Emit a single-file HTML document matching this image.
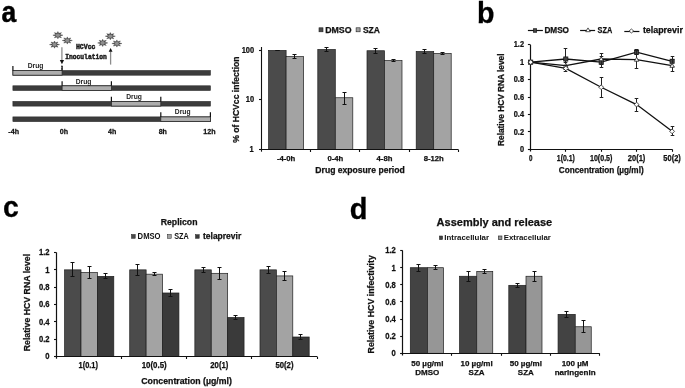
<!DOCTYPE html>
<html><head><meta charset="utf-8"><style>
html,body{margin:0;padding:0;background:#fff;width:685px;height:388px;overflow:hidden}
svg{display:block;font-family:"Liberation Sans", sans-serif;will-change:transform}
text:not([stroke]){stroke:#111;stroke-width:0.25px}
</style></head><body>
<svg width="685" height="388" viewBox="0 0 685 388">
<rect width="685" height="388" fill="#fff"/>
<text transform="translate(1.60,21.50) scale(0.88,1)" font-size="30" font-weight="bold" text-anchor="start" fill="#000" stroke="#000" stroke-width="0.5">a</text>
<text x="476.9" y="22.8" font-size="28.6" font-weight="bold" text-anchor="start" fill="#000" stroke="#000" stroke-width="0.3">b</text>
<text transform="translate(2.90,216.90) scale(0.96,1)" font-size="29.6" font-weight="bold" text-anchor="start" fill="#000" stroke="#000" stroke-width="0.3">c</text>
<text x="349.8" y="219" font-size="29.0" font-weight="bold" text-anchor="start" fill="#000" stroke="#000" stroke-width="0.3">d</text>
<rect x="12.90" y="70.50" width="197.50" height="4.70" fill="#3c3c3c" stroke="#2a2a2a" stroke-width="0.6" />
<rect x="12.90" y="70.50" width="49.20" height="4.70" fill="#adadad" stroke="#2a2a2a" stroke-width="0.8" />
<line x1="12.90" y1="65.90" x2="12.90" y2="70.50" stroke="#111" stroke-width="1.2" />
<line x1="62.10" y1="65.90" x2="62.10" y2="70.50" stroke="#111" stroke-width="1.2" />
<text transform="translate(35.55,67.70) scale(0.96,1)" font-size="7" font-weight="bold" text-anchor="middle" fill="#222" stroke="none">Drug</text>
<rect x="12.90" y="85.80" width="197.50" height="4.70" fill="#3c3c3c" stroke="#2a2a2a" stroke-width="0.6" />
<rect x="62.10" y="85.80" width="49.30" height="4.70" fill="#adadad" stroke="#2a2a2a" stroke-width="0.8" />
<line x1="62.10" y1="81.20" x2="62.10" y2="85.80" stroke="#111" stroke-width="1.2" />
<line x1="111.40" y1="81.20" x2="111.40" y2="85.80" stroke="#111" stroke-width="1.2" />
<text transform="translate(83.55,83.50) scale(0.96,1)" font-size="7" font-weight="bold" text-anchor="middle" fill="#222" stroke="none">Drug</text>
<rect x="12.90" y="101.40" width="197.50" height="4.70" fill="#3c3c3c" stroke="#2a2a2a" stroke-width="0.6" />
<rect x="111.40" y="101.40" width="49.40" height="4.70" fill="#adadad" stroke="#2a2a2a" stroke-width="0.8" />
<line x1="111.40" y1="96.80" x2="111.40" y2="101.40" stroke="#111" stroke-width="1.2" />
<line x1="160.80" y1="96.80" x2="160.80" y2="101.40" stroke="#111" stroke-width="1.2" />
<text transform="translate(134.00,99.00) scale(0.96,1)" font-size="7" font-weight="bold" text-anchor="middle" fill="#222" stroke="none">Drug</text>
<rect x="12.90" y="116.90" width="197.50" height="4.70" fill="#3c3c3c" stroke="#2a2a2a" stroke-width="0.6" />
<rect x="160.80" y="116.90" width="49.60" height="4.70" fill="#adadad" stroke="#2a2a2a" stroke-width="0.8" />
<line x1="160.80" y1="112.30" x2="160.80" y2="116.90" stroke="#111" stroke-width="1.2" />
<line x1="210.40" y1="112.30" x2="210.40" y2="116.90" stroke="#111" stroke-width="1.2" />
<text transform="translate(182.70,113.70) scale(0.96,1)" font-size="7" font-weight="bold" text-anchor="middle" fill="#222" stroke="none">Drug</text>
<text transform="translate(13.70,133.50) scale(0.95,1)" font-size="7.5" font-weight="bold" text-anchor="middle" fill="#111" >-4h</text>
<text transform="translate(63.85,133.50) scale(0.95,1)" font-size="7.5" font-weight="bold" text-anchor="middle" fill="#111" >0h</text>
<text transform="translate(112.25,133.50) scale(0.95,1)" font-size="7.5" font-weight="bold" text-anchor="middle" fill="#111" >4h</text>
<text transform="translate(162.80,133.50) scale(0.95,1)" font-size="7.5" font-weight="bold" text-anchor="middle" fill="#111" >8h</text>
<text transform="translate(209.45,133.50) scale(0.95,1)" font-size="7.5" font-weight="bold" text-anchor="middle" fill="#111" >12h</text>
<polygon points="62.90,35.20 59.93,35.97 61.44,37.75 58.74,37.05 57.90,38.80 57.06,37.05 54.36,37.75 55.87,35.97 52.90,35.20 55.87,34.43 54.36,32.65 57.06,33.35 57.90,31.60 58.74,33.35 61.44,32.65 59.93,34.43" fill="#4a4a4a" stroke="#3a3a3a" stroke-width="0.4"/>
<ellipse cx="57.9" cy="35.2" rx="2.1" ry="1.8" fill="#8e8e8e"/>
<polygon points="72.30,40.50 69.33,41.27 70.84,43.05 68.14,42.35 67.30,44.10 66.46,42.35 63.76,43.05 65.27,41.27 62.30,40.50 65.27,39.73 63.76,37.95 66.46,38.65 67.30,36.90 68.14,38.65 70.84,37.95 69.33,39.73" fill="#4a4a4a" stroke="#3a3a3a" stroke-width="0.4"/>
<ellipse cx="67.3" cy="40.5" rx="2.1" ry="1.8" fill="#8e8e8e"/>
<polygon points="59.50,44.60 56.53,45.37 58.04,47.15 55.34,46.45 54.50,48.20 53.66,46.45 50.96,47.15 52.47,45.37 49.50,44.60 52.47,43.83 50.96,42.05 53.66,42.75 54.50,41.00 55.34,42.75 58.04,42.05 56.53,43.83" fill="#4a4a4a" stroke="#3a3a3a" stroke-width="0.4"/>
<ellipse cx="54.5" cy="44.6" rx="2.1" ry="1.8" fill="#8e8e8e"/>
<polygon points="115.30,36.20 112.33,36.97 113.84,38.75 111.14,38.05 110.30,39.80 109.46,38.05 106.76,38.75 108.27,36.97 105.30,36.20 108.27,35.43 106.76,33.65 109.46,34.35 110.30,32.60 111.14,34.35 113.84,33.65 112.33,35.43" fill="#4a4a4a" stroke="#3a3a3a" stroke-width="0.4"/>
<ellipse cx="110.3" cy="36.2" rx="2.1" ry="1.8" fill="#8e8e8e"/>
<polygon points="107.70,42.90 104.73,43.67 106.24,45.45 103.54,44.75 102.70,46.50 101.86,44.75 99.16,45.45 100.67,43.67 97.70,42.90 100.67,42.13 99.16,40.35 101.86,41.05 102.70,39.30 103.54,41.05 106.24,40.35 104.73,42.13" fill="#4a4a4a" stroke="#3a3a3a" stroke-width="0.4"/>
<ellipse cx="102.7" cy="42.9" rx="2.1" ry="1.8" fill="#8e8e8e"/>
<polygon points="121.90,43.50 118.93,44.27 120.44,46.05 117.74,45.35 116.90,47.10 116.06,45.35 113.36,46.05 114.87,44.27 111.90,43.50 114.87,42.73 113.36,40.95 116.06,41.65 116.90,39.90 117.74,41.65 120.44,40.95 118.93,42.73" fill="#4a4a4a" stroke="#3a3a3a" stroke-width="0.4"/>
<ellipse cx="116.9" cy="43.5" rx="2.1" ry="1.8" fill="#8e8e8e"/>
<line x1="61.90" y1="47.30" x2="61.90" y2="60.50" stroke="#8c8c8c" stroke-width="1.3" />
<path d="M59.8,60.1 L64.1,60.1 L61.95,64.3 Z" fill="#111" stroke="none" stroke-width="1" />
<line x1="61.90" y1="65.60" x2="61.90" y2="70.50" stroke="#222" stroke-width="1.1" stroke-dasharray="1.6,0.9"/>
<line x1="110.60" y1="51.50" x2="110.60" y2="64.60" stroke="#8c8c8c" stroke-width="1.3" />
<path d="M108.7,51.8 L112.5,51.8 L110.6,47.9 Z" fill="#111" stroke="none" stroke-width="1" />
<text x="85.7" y="49.0" font-size="8" font-weight="bold" text-anchor="middle" fill="#1a1a1a" font-family="Liberation Mono" stroke="#1a1a1a" stroke-width="0.55" textLength="19.6" lengthAdjust="spacingAndGlyphs">HCVcc</text>
<text x="86" y="58.6" font-size="8" font-weight="bold" text-anchor="middle" fill="#1a1a1a" font-family="Liberation Mono" stroke="#1a1a1a" stroke-width="0.55" textLength="41.6" lengthAdjust="spacingAndGlyphs">Inoculation</text>
<rect x="268.60" y="50.41" width="17.50" height="99.09" fill="#4b4b4b" stroke="#1e1e1e" stroke-width="0.7" />
<line x1="277.50" y1="50.50" x2="277.50" y2="50.50" stroke="#111" stroke-width="1.0" />
<line x1="275.50" y1="50.50" x2="279.50" y2="50.50" stroke="#111" stroke-width="1.0" />
<line x1="275.50" y1="50.50" x2="279.50" y2="50.50" stroke="#111" stroke-width="1.0" />
<rect x="286.10" y="56.58" width="17.50" height="92.92" fill="#a3a3a3" stroke="#1e1e1e" stroke-width="0.7" />
<line x1="294.50" y1="54.50" x2="294.50" y2="58.50" stroke="#111" stroke-width="1.0" />
<line x1="292.50" y1="54.50" x2="296.50" y2="54.50" stroke="#111" stroke-width="1.0" />
<line x1="292.50" y1="58.50" x2="296.50" y2="58.50" stroke="#111" stroke-width="1.0" />
<rect x="317.80" y="49.46" width="17.50" height="100.04" fill="#4b4b4b" stroke="#1e1e1e" stroke-width="0.7" />
<line x1="326.50" y1="47.50" x2="326.50" y2="51.50" stroke="#111" stroke-width="1.0" />
<line x1="324.50" y1="47.50" x2="328.50" y2="47.50" stroke="#111" stroke-width="1.0" />
<line x1="324.50" y1="51.50" x2="328.50" y2="51.50" stroke="#111" stroke-width="1.0" />
<rect x="335.30" y="97.75" width="17.50" height="51.75" fill="#a3a3a3" stroke="#1e1e1e" stroke-width="0.7" />
<line x1="344.50" y1="92.50" x2="344.50" y2="104.50" stroke="#111" stroke-width="1.0" />
<line x1="342.50" y1="92.50" x2="346.50" y2="92.50" stroke="#111" stroke-width="1.0" />
<line x1="342.50" y1="104.50" x2="346.50" y2="104.50" stroke="#111" stroke-width="1.0" />
<rect x="367.00" y="50.74" width="17.50" height="98.76" fill="#4b4b4b" stroke="#1e1e1e" stroke-width="0.7" />
<line x1="375.50" y1="48.50" x2="375.50" y2="53.50" stroke="#111" stroke-width="1.0" />
<line x1="373.50" y1="48.50" x2="377.50" y2="48.50" stroke="#111" stroke-width="1.0" />
<line x1="373.50" y1="53.50" x2="377.50" y2="53.50" stroke="#111" stroke-width="1.0" />
<rect x="384.50" y="60.60" width="17.50" height="88.90" fill="#a3a3a3" stroke="#1e1e1e" stroke-width="0.7" />
<line x1="393.50" y1="59.50" x2="393.50" y2="61.50" stroke="#111" stroke-width="1.0" />
<line x1="391.50" y1="59.50" x2="395.50" y2="59.50" stroke="#111" stroke-width="1.0" />
<line x1="391.50" y1="61.50" x2="395.50" y2="61.50" stroke="#111" stroke-width="1.0" />
<rect x="416.20" y="51.50" width="17.50" height="98.00" fill="#4b4b4b" stroke="#1e1e1e" stroke-width="0.7" />
<line x1="424.50" y1="49.50" x2="424.50" y2="53.50" stroke="#111" stroke-width="1.0" />
<line x1="422.50" y1="49.50" x2="426.50" y2="49.50" stroke="#111" stroke-width="1.0" />
<line x1="422.50" y1="53.50" x2="426.50" y2="53.50" stroke="#111" stroke-width="1.0" />
<rect x="433.70" y="53.40" width="17.50" height="96.10" fill="#a3a3a3" stroke="#1e1e1e" stroke-width="0.7" />
<line x1="442.50" y1="52.50" x2="442.50" y2="54.50" stroke="#111" stroke-width="1.0" />
<line x1="440.50" y1="52.50" x2="444.50" y2="52.50" stroke="#111" stroke-width="1.0" />
<line x1="440.50" y1="54.50" x2="444.50" y2="54.50" stroke="#111" stroke-width="1.0" />
<line x1="261.50" y1="47.00" x2="261.50" y2="151.70" stroke="#111" stroke-width="1.1" />
<line x1="259.20" y1="149.50" x2="458.30" y2="149.50" stroke="#111" stroke-width="1.1" />
<line x1="259.00" y1="149.50" x2="261.50" y2="149.50" stroke="#111" stroke-width="1.1" />
<line x1="259.00" y1="99.50" x2="261.50" y2="99.50" stroke="#111" stroke-width="1.1" />
<line x1="259.00" y1="50.50" x2="261.50" y2="50.50" stroke="#111" stroke-width="1.1" />
<line x1="310.50" y1="149.50" x2="310.50" y2="152.00" stroke="#111" stroke-width="1.1" />
<line x1="359.50" y1="149.50" x2="359.50" y2="152.00" stroke="#111" stroke-width="1.1" />
<line x1="409.50" y1="149.50" x2="409.50" y2="152.00" stroke="#111" stroke-width="1.1" />
<line x1="458.50" y1="149.50" x2="458.50" y2="152.00" stroke="#111" stroke-width="1.1" />
<text transform="translate(254.10,52.80) scale(0.9,1)" font-size="8.3" font-weight="bold" text-anchor="end" fill="#111" >100</text>
<text transform="translate(254.10,102.30) scale(0.9,1)" font-size="8.3" font-weight="bold" text-anchor="end" fill="#111" >10</text>
<text transform="translate(253.60,151.80) scale(0.9,1)" font-size="8.3" font-weight="bold" text-anchor="end" fill="#111" >1</text>
<text x="286.1" y="160.8" font-size="7.7" font-weight="bold" text-anchor="middle" fill="#111" >-4-0h</text>
<text x="335.3" y="160.8" font-size="7.7" font-weight="bold" text-anchor="middle" fill="#111" >0-4h</text>
<text x="384.5" y="160.8" font-size="7.7" font-weight="bold" text-anchor="middle" fill="#111" >4-8h</text>
<text x="433.70000000000005" y="160.8" font-size="7.7" font-weight="bold" text-anchor="middle" fill="#111" >8-12h</text>
<text x="360.0" y="173.4" font-size="8.6" font-weight="bold" text-anchor="middle" fill="#111" >Drug exposure period</text>
<text x="0" y="0" font-size="8.6" font-weight="bold" text-anchor="middle" fill="#111" transform="translate(238.7,99.6) rotate(-90)">% of HCVcc infection</text>
<rect x="319.00" y="27.80" width="4.00" height="4.00" fill="#4b4b4b" stroke="#1e1e1e" stroke-width="0.6" />
<text x="325.2" y="32.6" font-size="8.8" font-weight="bold" text-anchor="start" fill="#111" >DMSO</text>
<rect x="356.10" y="27.80" width="4.00" height="4.00" fill="#a3a3a3" stroke="#1e1e1e" stroke-width="0.6" />
<text x="362.9" y="32.6" font-size="8.5" font-weight="bold" text-anchor="start" fill="#111" >SZA</text>
<line x1="530.50" y1="44.72" x2="530.50" y2="151.50" stroke="#111" stroke-width="1.2" />
<line x1="528.10" y1="149.50" x2="672.30" y2="149.50" stroke="#111" stroke-width="1.2" />
<line x1="527.90" y1="149.50" x2="530.40" y2="149.50" stroke="#111" stroke-width="1.1" />
<text transform="translate(524.00,152.00) scale(0.9,1)" font-size="8.2" font-weight="bold" text-anchor="end" fill="#111" >0</text>
<line x1="527.90" y1="131.50" x2="530.40" y2="131.50" stroke="#111" stroke-width="1.1" />
<text transform="translate(524.00,134.57) scale(0.9,1)" font-size="8.2" font-weight="bold" text-anchor="end" fill="#111" >0.2</text>
<line x1="527.90" y1="114.50" x2="530.40" y2="114.50" stroke="#111" stroke-width="1.1" />
<text transform="translate(524.00,117.14) scale(0.9,1)" font-size="8.2" font-weight="bold" text-anchor="end" fill="#111" >0.4</text>
<line x1="527.90" y1="97.50" x2="530.40" y2="97.50" stroke="#111" stroke-width="1.1" />
<text transform="translate(524.00,99.71) scale(0.9,1)" font-size="8.2" font-weight="bold" text-anchor="end" fill="#111" >0.6</text>
<line x1="527.90" y1="79.50" x2="530.40" y2="79.50" stroke="#111" stroke-width="1.1" />
<text transform="translate(524.00,82.28) scale(0.9,1)" font-size="8.2" font-weight="bold" text-anchor="end" fill="#111" >0.8</text>
<line x1="527.90" y1="62.50" x2="530.40" y2="62.50" stroke="#111" stroke-width="1.1" />
<text transform="translate(524.00,64.85) scale(0.9,1)" font-size="8.2" font-weight="bold" text-anchor="end" fill="#111" >1</text>
<line x1="527.90" y1="44.50" x2="530.40" y2="44.50" stroke="#111" stroke-width="1.1" />
<text transform="translate(524.00,47.42) scale(0.9,1)" font-size="8.2" font-weight="bold" text-anchor="end" fill="#111" >1.2</text>
<line x1="565.50" y1="149.30" x2="565.50" y2="151.80" stroke="#111" stroke-width="1.1" />
<line x1="601.50" y1="149.30" x2="601.50" y2="151.80" stroke="#111" stroke-width="1.1" />
<line x1="636.50" y1="149.30" x2="636.50" y2="151.80" stroke="#111" stroke-width="1.1" />
<line x1="672.50" y1="149.30" x2="672.50" y2="151.80" stroke="#111" stroke-width="1.1" />
<text x="530.6999999999999" y="160.9" font-size="8.4" font-weight="bold" text-anchor="middle" fill="#111" textLength="3.5" lengthAdjust="spacingAndGlyphs">0</text>
<text x="565.8" y="160.9" font-size="8.4" font-weight="bold" text-anchor="middle" fill="#111" textLength="18" lengthAdjust="spacingAndGlyphs">1(0.1)</text>
<text x="601.2" y="160.9" font-size="8.4" font-weight="bold" text-anchor="middle" fill="#111" textLength="22.5" lengthAdjust="spacingAndGlyphs">10(0.5)</text>
<text x="636.6" y="160.9" font-size="8.4" font-weight="bold" text-anchor="middle" fill="#111" textLength="17.5" lengthAdjust="spacingAndGlyphs">20(1)</text>
<text x="672.1" y="160.9" font-size="8.4" font-weight="bold" text-anchor="middle" fill="#111" textLength="17.5" lengthAdjust="spacingAndGlyphs">50(2)</text>
<text x="601.25" y="173.2" font-size="8.2" font-weight="bold" text-anchor="middle" fill="#111" >Concentration (µg/ml)</text>
<text x="0" y="0" font-size="8.3" font-weight="bold" text-anchor="middle" fill="#111" transform="translate(504.2,99.75) rotate(-90)">Relative HCV RNA level</text>
<line x1="565.50" y1="48.50" x2="565.50" y2="69.50" stroke="#222" stroke-width="1.0" />
<line x1="563.70" y1="48.50" x2="567.30" y2="48.50" stroke="#222" stroke-width="1.0" />
<line x1="563.70" y1="69.50" x2="567.30" y2="69.50" stroke="#222" stroke-width="1.0" />
<line x1="601.50" y1="56.50" x2="601.50" y2="67.50" stroke="#222" stroke-width="1.0" />
<line x1="599.70" y1="56.50" x2="603.30" y2="56.50" stroke="#222" stroke-width="1.0" />
<line x1="599.70" y1="67.50" x2="603.30" y2="67.50" stroke="#222" stroke-width="1.0" />
<line x1="636.50" y1="49.50" x2="636.50" y2="54.50" stroke="#222" stroke-width="1.0" />
<line x1="634.70" y1="49.50" x2="638.30" y2="49.50" stroke="#222" stroke-width="1.0" />
<line x1="634.70" y1="54.50" x2="638.30" y2="54.50" stroke="#222" stroke-width="1.0" />
<line x1="672.50" y1="56.50" x2="672.50" y2="66.50" stroke="#222" stroke-width="1.0" />
<line x1="670.70" y1="56.50" x2="674.30" y2="56.50" stroke="#222" stroke-width="1.0" />
<line x1="670.70" y1="66.50" x2="674.30" y2="66.50" stroke="#222" stroke-width="1.0" />
<polyline points="530.70,62.15 565.80,59.01 601.20,62.15 636.60,52.13 672.10,61.28" fill="none" stroke="#111" stroke-width="1.3"/>
<rect x="528.60" y="60.05" width="4.20" height="4.20" fill="#444" stroke="#111" stroke-width="0.7" />
<rect x="563.70" y="56.91" width="4.20" height="4.20" fill="#444" stroke="#111" stroke-width="0.7" />
<rect x="599.10" y="60.05" width="4.20" height="4.20" fill="#444" stroke="#111" stroke-width="0.7" />
<rect x="634.50" y="50.03" width="4.20" height="4.20" fill="#444" stroke="#111" stroke-width="0.7" />
<rect x="670.00" y="59.18" width="4.20" height="4.20" fill="#444" stroke="#111" stroke-width="0.7" />
<line x1="565.50" y1="62.50" x2="565.50" y2="69.50" stroke="#222" stroke-width="1.0" />
<line x1="563.70" y1="62.50" x2="567.30" y2="62.50" stroke="#222" stroke-width="1.0" />
<line x1="563.70" y1="69.50" x2="567.30" y2="69.50" stroke="#222" stroke-width="1.0" />
<line x1="601.50" y1="53.50" x2="601.50" y2="64.50" stroke="#222" stroke-width="1.0" />
<line x1="599.70" y1="53.50" x2="603.30" y2="53.50" stroke="#222" stroke-width="1.0" />
<line x1="599.70" y1="64.50" x2="603.30" y2="64.50" stroke="#222" stroke-width="1.0" />
<line x1="636.50" y1="50.50" x2="636.50" y2="68.50" stroke="#222" stroke-width="1.0" />
<line x1="634.70" y1="50.50" x2="638.30" y2="50.50" stroke="#222" stroke-width="1.0" />
<line x1="634.70" y1="68.50" x2="638.30" y2="68.50" stroke="#222" stroke-width="1.0" />
<line x1="672.50" y1="59.50" x2="672.50" y2="71.50" stroke="#222" stroke-width="1.0" />
<line x1="670.70" y1="59.50" x2="674.30" y2="59.50" stroke="#222" stroke-width="1.0" />
<line x1="670.70" y1="71.50" x2="674.30" y2="71.50" stroke="#222" stroke-width="1.0" />
<polyline points="530.70,62.15 565.80,65.64 601.20,59.01 636.60,59.54 672.10,65.64" fill="none" stroke="#111" stroke-width="1.3"/>
<path d="M530.70,59.85 L532.90,63.85 L528.50,63.85 Z" fill="#fff" stroke="#222" stroke-width="0.8" />
<path d="M565.80,63.34 L568.00,67.34 L563.60,67.34 Z" fill="#fff" stroke="#222" stroke-width="0.8" />
<path d="M601.20,56.71 L603.40,60.71 L599.00,60.71 Z" fill="#fff" stroke="#222" stroke-width="0.8" />
<path d="M636.60,57.24 L638.80,61.24 L634.40,61.24 Z" fill="#fff" stroke="#222" stroke-width="0.8" />
<path d="M672.10,63.34 L674.30,67.34 L669.90,67.34 Z" fill="#fff" stroke="#222" stroke-width="0.8" />
<line x1="565.50" y1="65.50" x2="565.50" y2="71.50" stroke="#222" stroke-width="1.0" />
<line x1="563.70" y1="65.50" x2="567.30" y2="65.50" stroke="#222" stroke-width="1.0" />
<line x1="563.70" y1="71.50" x2="567.30" y2="71.50" stroke="#222" stroke-width="1.0" />
<line x1="601.50" y1="77.50" x2="601.50" y2="97.50" stroke="#222" stroke-width="1.0" />
<line x1="599.70" y1="77.50" x2="603.30" y2="77.50" stroke="#222" stroke-width="1.0" />
<line x1="599.70" y1="97.50" x2="603.30" y2="97.50" stroke="#222" stroke-width="1.0" />
<line x1="636.50" y1="98.50" x2="636.50" y2="111.50" stroke="#222" stroke-width="1.0" />
<line x1="634.70" y1="98.50" x2="638.30" y2="98.50" stroke="#222" stroke-width="1.0" />
<line x1="634.70" y1="111.50" x2="638.30" y2="111.50" stroke="#222" stroke-width="1.0" />
<line x1="672.50" y1="126.50" x2="672.50" y2="135.50" stroke="#222" stroke-width="1.0" />
<line x1="670.70" y1="126.50" x2="674.30" y2="126.50" stroke="#222" stroke-width="1.0" />
<line x1="670.70" y1="135.50" x2="674.30" y2="135.50" stroke="#222" stroke-width="1.0" />
<polyline points="530.70,62.15 565.80,68.42 601.20,87.25 636.60,104.59 672.10,131.35" fill="none" stroke="#111" stroke-width="1.3"/>
<path d="M530.70,59.75 L533.10,62.15 L530.70,64.55 L528.30,62.15 Z" fill="#fff" stroke="#222" stroke-width="0.8" />
<path d="M565.80,66.02 L568.20,68.42 L565.80,70.82 L563.40,68.42 Z" fill="#fff" stroke="#222" stroke-width="0.8" />
<path d="M601.20,84.85 L603.60,87.25 L601.20,89.65 L598.80,87.25 Z" fill="#fff" stroke="#222" stroke-width="0.8" />
<path d="M636.60,102.19 L639.00,104.59 L636.60,106.99 L634.20,104.59 Z" fill="#fff" stroke="#222" stroke-width="0.8" />
<path d="M672.10,128.95 L674.50,131.35 L672.10,133.75 L669.70,131.35 Z" fill="#fff" stroke="#222" stroke-width="0.8" />
<line x1="527.90" y1="30.50" x2="542.90" y2="30.50" stroke="#111" stroke-width="1.2" />
<rect x="533.30" y="28.70" width="3.40" height="3.60" fill="#444" stroke="#111" stroke-width="0.6" />
<text x="544.4" y="32.5" font-size="8.5" font-weight="bold" text-anchor="start" fill="#111" textLength="24.6" lengthAdjust="spacingAndGlyphs">DMSO</text>
<line x1="580.10" y1="30.50" x2="595.10" y2="30.50" stroke="#111" stroke-width="1.2" />
<path d="M588.00,27.90 L590.30,31.70 L585.70,31.70 Z" fill="#fff" stroke="#222" stroke-width="0.75" />
<text x="597.6" y="32.7" font-size="8.5" font-weight="bold" text-anchor="start" fill="#111" textLength="14.6" lengthAdjust="spacingAndGlyphs">SZA</text>
<line x1="624.30" y1="31.50" x2="639.40" y2="31.50" stroke="#111" stroke-width="1.2" />
<path d="M631.40,29.00 L633.70,31.00 L631.40,33.00 L629.10,31.00 Z" fill="#fff" stroke="#222" stroke-width="0.75" />
<text x="642.9" y="32.8" font-size="8.3" font-weight="bold" text-anchor="start" fill="#111" textLength="40" lengthAdjust="spacingAndGlyphs">telaprevir</text>
<rect x="64.60" y="269.85" width="16.40" height="86.65" fill="#4b4b4b" stroke="#1e1e1e" stroke-width="0.7" />
<line x1="72.50" y1="262.50" x2="72.50" y2="276.50" stroke="#111" stroke-width="1.0" />
<line x1="70.50" y1="262.50" x2="74.50" y2="262.50" stroke="#111" stroke-width="1.0" />
<line x1="70.50" y1="276.50" x2="74.50" y2="276.50" stroke="#111" stroke-width="1.0" />
<rect x="81.00" y="272.45" width="16.40" height="84.05" fill="#a3a3a3" stroke="#1e1e1e" stroke-width="0.7" />
<line x1="89.50" y1="266.50" x2="89.50" y2="278.50" stroke="#111" stroke-width="1.0" />
<line x1="87.50" y1="266.50" x2="91.50" y2="266.50" stroke="#111" stroke-width="1.0" />
<line x1="87.50" y1="278.50" x2="91.50" y2="278.50" stroke="#111" stroke-width="1.0" />
<rect x="97.40" y="276.35" width="16.40" height="80.15" fill="#3a3a3a" stroke="#1e1e1e" stroke-width="0.7" />
<line x1="105.50" y1="273.50" x2="105.50" y2="278.50" stroke="#111" stroke-width="1.0" />
<line x1="103.50" y1="273.50" x2="107.50" y2="273.50" stroke="#111" stroke-width="1.0" />
<line x1="103.50" y1="278.50" x2="107.50" y2="278.50" stroke="#111" stroke-width="1.0" />
<rect x="129.73" y="269.85" width="16.40" height="86.65" fill="#4b4b4b" stroke="#1e1e1e" stroke-width="0.7" />
<line x1="137.50" y1="264.50" x2="137.50" y2="275.50" stroke="#111" stroke-width="1.0" />
<line x1="135.50" y1="264.50" x2="139.50" y2="264.50" stroke="#111" stroke-width="1.0" />
<line x1="135.50" y1="275.50" x2="139.50" y2="275.50" stroke="#111" stroke-width="1.0" />
<rect x="146.13" y="274.18" width="16.40" height="82.32" fill="#a3a3a3" stroke="#1e1e1e" stroke-width="0.7" />
<line x1="154.50" y1="272.50" x2="154.50" y2="275.50" stroke="#111" stroke-width="1.0" />
<line x1="152.50" y1="272.50" x2="156.50" y2="272.50" stroke="#111" stroke-width="1.0" />
<line x1="152.50" y1="275.50" x2="156.50" y2="275.50" stroke="#111" stroke-width="1.0" />
<rect x="162.53" y="292.99" width="16.40" height="63.51" fill="#3a3a3a" stroke="#1e1e1e" stroke-width="0.7" />
<line x1="170.50" y1="289.50" x2="170.50" y2="296.50" stroke="#111" stroke-width="1.0" />
<line x1="168.50" y1="289.50" x2="172.50" y2="289.50" stroke="#111" stroke-width="1.0" />
<line x1="168.50" y1="296.50" x2="172.50" y2="296.50" stroke="#111" stroke-width="1.0" />
<rect x="194.86" y="269.85" width="16.40" height="86.65" fill="#4b4b4b" stroke="#1e1e1e" stroke-width="0.7" />
<line x1="203.50" y1="267.50" x2="203.50" y2="272.50" stroke="#111" stroke-width="1.0" />
<line x1="201.50" y1="267.50" x2="205.50" y2="267.50" stroke="#111" stroke-width="1.0" />
<line x1="201.50" y1="272.50" x2="205.50" y2="272.50" stroke="#111" stroke-width="1.0" />
<rect x="211.26" y="273.32" width="16.40" height="83.18" fill="#a3a3a3" stroke="#1e1e1e" stroke-width="0.7" />
<line x1="219.50" y1="267.50" x2="219.50" y2="279.50" stroke="#111" stroke-width="1.0" />
<line x1="217.50" y1="267.50" x2="221.50" y2="267.50" stroke="#111" stroke-width="1.0" />
<line x1="217.50" y1="279.50" x2="221.50" y2="279.50" stroke="#111" stroke-width="1.0" />
<rect x="227.66" y="317.51" width="16.40" height="38.99" fill="#3a3a3a" stroke="#1e1e1e" stroke-width="0.7" />
<line x1="235.50" y1="315.50" x2="235.50" y2="319.50" stroke="#111" stroke-width="1.0" />
<line x1="233.50" y1="315.50" x2="237.50" y2="315.50" stroke="#111" stroke-width="1.0" />
<line x1="233.50" y1="319.50" x2="237.50" y2="319.50" stroke="#111" stroke-width="1.0" />
<rect x="259.99" y="269.85" width="16.40" height="86.65" fill="#4b4b4b" stroke="#1e1e1e" stroke-width="0.7" />
<line x1="268.50" y1="266.50" x2="268.50" y2="273.50" stroke="#111" stroke-width="1.0" />
<line x1="266.50" y1="266.50" x2="270.50" y2="266.50" stroke="#111" stroke-width="1.0" />
<line x1="266.50" y1="273.50" x2="270.50" y2="273.50" stroke="#111" stroke-width="1.0" />
<rect x="276.39" y="275.92" width="16.40" height="80.58" fill="#a3a3a3" stroke="#1e1e1e" stroke-width="0.7" />
<line x1="284.50" y1="271.50" x2="284.50" y2="280.50" stroke="#111" stroke-width="1.0" />
<line x1="282.50" y1="271.50" x2="286.50" y2="271.50" stroke="#111" stroke-width="1.0" />
<line x1="282.50" y1="280.50" x2="286.50" y2="280.50" stroke="#111" stroke-width="1.0" />
<rect x="292.79" y="337.00" width="16.40" height="19.50" fill="#3a3a3a" stroke="#1e1e1e" stroke-width="0.7" />
<line x1="300.50" y1="334.50" x2="300.50" y2="339.50" stroke="#111" stroke-width="1.0" />
<line x1="298.50" y1="334.50" x2="302.50" y2="334.50" stroke="#111" stroke-width="1.0" />
<line x1="298.50" y1="339.50" x2="302.50" y2="339.50" stroke="#111" stroke-width="1.0" />
<line x1="56.50" y1="252.52" x2="56.50" y2="358.70" stroke="#111" stroke-width="1.2" />
<line x1="54.20" y1="356.50" x2="317.02" y2="356.50" stroke="#111" stroke-width="1.2" />
<line x1="54.00" y1="356.50" x2="56.50" y2="356.50" stroke="#111" stroke-width="1.1" />
<text transform="translate(49.60,359.30) scale(0.92,1)" font-size="8.3" font-weight="bold" text-anchor="end" fill="#111" >0</text>
<line x1="54.00" y1="339.50" x2="56.50" y2="339.50" stroke="#111" stroke-width="1.1" />
<text transform="translate(49.60,341.97) scale(0.92,1)" font-size="8.3" font-weight="bold" text-anchor="end" fill="#111" >0.2</text>
<line x1="54.00" y1="321.50" x2="56.50" y2="321.50" stroke="#111" stroke-width="1.1" />
<text transform="translate(49.60,324.64) scale(0.92,1)" font-size="8.3" font-weight="bold" text-anchor="end" fill="#111" >0.4</text>
<line x1="54.00" y1="304.50" x2="56.50" y2="304.50" stroke="#111" stroke-width="1.1" />
<text transform="translate(49.60,307.31) scale(0.92,1)" font-size="8.3" font-weight="bold" text-anchor="end" fill="#111" >0.6</text>
<line x1="54.00" y1="287.50" x2="56.50" y2="287.50" stroke="#111" stroke-width="1.1" />
<text transform="translate(49.60,289.98) scale(0.92,1)" font-size="8.3" font-weight="bold" text-anchor="end" fill="#111" >0.8</text>
<line x1="54.00" y1="269.50" x2="56.50" y2="269.50" stroke="#111" stroke-width="1.1" />
<text transform="translate(49.60,272.65) scale(0.92,1)" font-size="8.3" font-weight="bold" text-anchor="end" fill="#111" >1</text>
<line x1="54.00" y1="252.50" x2="56.50" y2="252.50" stroke="#111" stroke-width="1.1" />
<text transform="translate(49.60,255.32) scale(0.92,1)" font-size="8.3" font-weight="bold" text-anchor="end" fill="#111" >1.2</text>
<line x1="121.50" y1="356.50" x2="121.50" y2="359.00" stroke="#111" stroke-width="1.1" />
<line x1="186.50" y1="356.50" x2="186.50" y2="359.00" stroke="#111" stroke-width="1.1" />
<line x1="251.50" y1="356.50" x2="251.50" y2="359.00" stroke="#111" stroke-width="1.1" />
<line x1="317.50" y1="356.50" x2="317.50" y2="359.00" stroke="#111" stroke-width="1.1" />
<text x="88.265" y="367.9" font-size="8.4" font-weight="bold" text-anchor="middle" fill="#111" textLength="19.5" lengthAdjust="spacingAndGlyphs">1(0.1)</text>
<text x="154.195" y="367.9" font-size="8.4" font-weight="bold" text-anchor="middle" fill="#111" textLength="25" lengthAdjust="spacingAndGlyphs">10(0.5)</text>
<text x="219.325" y="367.9" font-size="8.4" font-weight="bold" text-anchor="middle" fill="#111" textLength="18" lengthAdjust="spacingAndGlyphs">20(1)</text>
<text x="284.455" y="367.9" font-size="8.4" font-weight="bold" text-anchor="middle" fill="#111" textLength="18" lengthAdjust="spacingAndGlyphs">50(2)</text>
<text x="186.6" y="384.2" font-size="8.75" font-weight="bold" text-anchor="middle" fill="#111" >Concentration (µg/ml)</text>
<text x="0" y="0" font-size="8.75" font-weight="bold" text-anchor="middle" fill="#111" transform="translate(29.9,302.6) rotate(-90)">Relative HCV RNA level</text>
<text x="179.1" y="225.1" font-size="8.7" font-weight="bold" text-anchor="middle" fill="#111" >Replicon</text>
<rect x="131.50" y="234.50" width="3.70" height="3.80" fill="#4b4b4b" stroke="#1e1e1e" stroke-width="0.5" />
<text x="137.6" y="238.8" font-size="8.3" font-weight="bold" text-anchor="start" fill="#111" stroke="none" textLength="23" lengthAdjust="spacingAndGlyphs">DMSO</text>
<rect x="167.50" y="234.50" width="3.70" height="3.80" fill="#a3a3a3" stroke="#1e1e1e" stroke-width="0.5" />
<text x="174.2" y="238.8" font-size="8.3" font-weight="bold" text-anchor="start" fill="#111" stroke="none" textLength="14.6" lengthAdjust="spacingAndGlyphs">SZA</text>
<rect x="195.50" y="234.70" width="3.70" height="3.60" fill="#3a3a3a" stroke="#1e1e1e" stroke-width="0.5" />
<text x="203.0" y="238.7" font-size="8.2" font-weight="bold" text-anchor="start" fill="#111" textLength="38.2" lengthAdjust="spacingAndGlyphs">telaprevir</text>
<rect x="410.30" y="267.70" width="17.20" height="85.60" fill="#434343" stroke="#1e1e1e" stroke-width="0.7" />
<line x1="418.50" y1="264.50" x2="418.50" y2="271.50" stroke="#111" stroke-width="1.0" />
<line x1="416.50" y1="264.50" x2="420.50" y2="264.50" stroke="#111" stroke-width="1.0" />
<line x1="416.50" y1="271.50" x2="420.50" y2="271.50" stroke="#111" stroke-width="1.0" />
<rect x="427.50" y="267.70" width="16.00" height="85.60" fill="#969696" stroke="#1e1e1e" stroke-width="0.7" />
<line x1="435.50" y1="265.50" x2="435.50" y2="269.50" stroke="#111" stroke-width="1.0" />
<line x1="433.50" y1="265.50" x2="437.50" y2="265.50" stroke="#111" stroke-width="1.0" />
<line x1="433.50" y1="269.50" x2="437.50" y2="269.50" stroke="#111" stroke-width="1.0" />
<rect x="459.55" y="276.26" width="17.20" height="77.04" fill="#434343" stroke="#1e1e1e" stroke-width="0.7" />
<line x1="468.50" y1="271.50" x2="468.50" y2="281.50" stroke="#111" stroke-width="1.0" />
<line x1="466.50" y1="271.50" x2="470.50" y2="271.50" stroke="#111" stroke-width="1.0" />
<line x1="466.50" y1="281.50" x2="470.50" y2="281.50" stroke="#111" stroke-width="1.0" />
<rect x="476.75" y="271.38" width="16.00" height="81.92" fill="#969696" stroke="#1e1e1e" stroke-width="0.7" />
<line x1="484.50" y1="269.50" x2="484.50" y2="273.50" stroke="#111" stroke-width="1.0" />
<line x1="482.50" y1="269.50" x2="486.50" y2="269.50" stroke="#111" stroke-width="1.0" />
<line x1="482.50" y1="273.50" x2="486.50" y2="273.50" stroke="#111" stroke-width="1.0" />
<rect x="508.80" y="285.33" width="17.20" height="67.97" fill="#434343" stroke="#1e1e1e" stroke-width="0.7" />
<line x1="517.50" y1="283.50" x2="517.50" y2="287.50" stroke="#111" stroke-width="1.0" />
<line x1="515.50" y1="283.50" x2="519.50" y2="283.50" stroke="#111" stroke-width="1.0" />
<line x1="515.50" y1="287.50" x2="519.50" y2="287.50" stroke="#111" stroke-width="1.0" />
<rect x="526.00" y="276.26" width="16.00" height="77.04" fill="#969696" stroke="#1e1e1e" stroke-width="0.7" />
<line x1="534.50" y1="271.50" x2="534.50" y2="281.50" stroke="#111" stroke-width="1.0" />
<line x1="532.50" y1="271.50" x2="536.50" y2="271.50" stroke="#111" stroke-width="1.0" />
<line x1="532.50" y1="281.50" x2="536.50" y2="281.50" stroke="#111" stroke-width="1.0" />
<rect x="558.05" y="314.35" width="17.20" height="38.95" fill="#434343" stroke="#1e1e1e" stroke-width="0.7" />
<line x1="566.50" y1="311.50" x2="566.50" y2="317.50" stroke="#111" stroke-width="1.0" />
<line x1="564.50" y1="311.50" x2="568.50" y2="311.50" stroke="#111" stroke-width="1.0" />
<line x1="564.50" y1="317.50" x2="568.50" y2="317.50" stroke="#111" stroke-width="1.0" />
<rect x="575.25" y="326.76" width="16.00" height="26.54" fill="#969696" stroke="#1e1e1e" stroke-width="0.7" />
<line x1="583.50" y1="320.50" x2="583.50" y2="332.50" stroke="#111" stroke-width="1.0" />
<line x1="581.50" y1="320.50" x2="585.50" y2="320.50" stroke="#111" stroke-width="1.0" />
<line x1="581.50" y1="332.50" x2="585.50" y2="332.50" stroke="#111" stroke-width="1.0" />
<line x1="402.50" y1="250.58" x2="402.50" y2="355.50" stroke="#111" stroke-width="1.2" />
<line x1="400.40" y1="353.50" x2="599.70" y2="353.50" stroke="#111" stroke-width="1.2" />
<line x1="400.20" y1="353.50" x2="402.70" y2="353.50" stroke="#111" stroke-width="1.1" />
<text transform="translate(395.80,356.10) scale(0.92,1)" font-size="8.3" font-weight="bold" text-anchor="end" fill="#111" >0</text>
<line x1="400.20" y1="336.50" x2="402.70" y2="336.50" stroke="#111" stroke-width="1.1" />
<text transform="translate(395.80,338.98) scale(0.92,1)" font-size="8.3" font-weight="bold" text-anchor="end" fill="#111" >0.2</text>
<line x1="400.20" y1="319.50" x2="402.70" y2="319.50" stroke="#111" stroke-width="1.1" />
<text transform="translate(395.80,321.86) scale(0.92,1)" font-size="8.3" font-weight="bold" text-anchor="end" fill="#111" >0.4</text>
<line x1="400.20" y1="301.50" x2="402.70" y2="301.50" stroke="#111" stroke-width="1.1" />
<text transform="translate(395.80,304.74) scale(0.92,1)" font-size="8.3" font-weight="bold" text-anchor="end" fill="#111" >0.6</text>
<line x1="400.20" y1="284.50" x2="402.70" y2="284.50" stroke="#111" stroke-width="1.1" />
<text transform="translate(395.80,287.62) scale(0.92,1)" font-size="8.3" font-weight="bold" text-anchor="end" fill="#111" >0.8</text>
<line x1="400.20" y1="267.50" x2="402.70" y2="267.50" stroke="#111" stroke-width="1.1" />
<text transform="translate(395.80,270.50) scale(0.92,1)" font-size="8.3" font-weight="bold" text-anchor="end" fill="#111" >1</text>
<line x1="400.20" y1="250.50" x2="402.70" y2="250.50" stroke="#111" stroke-width="1.1" />
<text transform="translate(395.80,253.38) scale(0.92,1)" font-size="8.3" font-weight="bold" text-anchor="end" fill="#111" >1.2</text>
<line x1="451.50" y1="353.30" x2="451.50" y2="355.80" stroke="#111" stroke-width="1.1" />
<line x1="501.50" y1="353.30" x2="501.50" y2="355.80" stroke="#111" stroke-width="1.1" />
<line x1="550.50" y1="353.30" x2="550.50" y2="355.80" stroke="#111" stroke-width="1.1" />
<line x1="599.50" y1="353.30" x2="599.50" y2="355.80" stroke="#111" stroke-width="1.1" />
<text x="427.325" y="366.2" font-size="8" font-weight="bold" text-anchor="middle" fill="#111" >50 µg/ml</text>
<text x="427.325" y="375" font-size="8" font-weight="bold" text-anchor="middle" fill="#111" >DMSO</text>
<text x="476.575" y="366.2" font-size="8" font-weight="bold" text-anchor="middle" fill="#111" >10 µg/ml</text>
<text x="476.575" y="375" font-size="8" font-weight="bold" text-anchor="middle" fill="#111" >SZA</text>
<text x="525.825" y="366.2" font-size="8" font-weight="bold" text-anchor="middle" fill="#111" >50 µg/ml</text>
<text x="525.825" y="375" font-size="8" font-weight="bold" text-anchor="middle" fill="#111" >SZA</text>
<text x="575.075" y="366.2" font-size="8" font-weight="bold" text-anchor="middle" fill="#111" >100 µM</text>
<text x="575.075" y="375" font-size="8" font-weight="bold" text-anchor="middle" fill="#111" >naringenin</text>
<text x="0" y="0" font-size="8.8" font-weight="bold" text-anchor="middle" fill="#111" transform="translate(374.2,304.35) rotate(-90)">Relative HCV infectivity</text>
<text x="494.4" y="226.4" font-size="11" font-weight="bold" text-anchor="middle" fill="#111" >Assembly and release</text>
<rect x="439.40" y="236.00" width="3.20" height="3.60" fill="#434343" stroke="#1e1e1e" stroke-width="0.5" />
<text x="444.3" y="239.70000000000002" font-size="7.9" font-weight="bold" text-anchor="start" fill="#111" stroke="none">Intracellular</text>
<rect x="498.50" y="236.00" width="3.40" height="3.60" fill="#969696" stroke="#333" stroke-width="0.7" />
<text x="503.7" y="239.70000000000002" font-size="7.9" font-weight="bold" text-anchor="start" fill="#111" stroke="none" textLength="47.2" lengthAdjust="spacingAndGlyphs">Extracellular</text>
</svg></body></html>
